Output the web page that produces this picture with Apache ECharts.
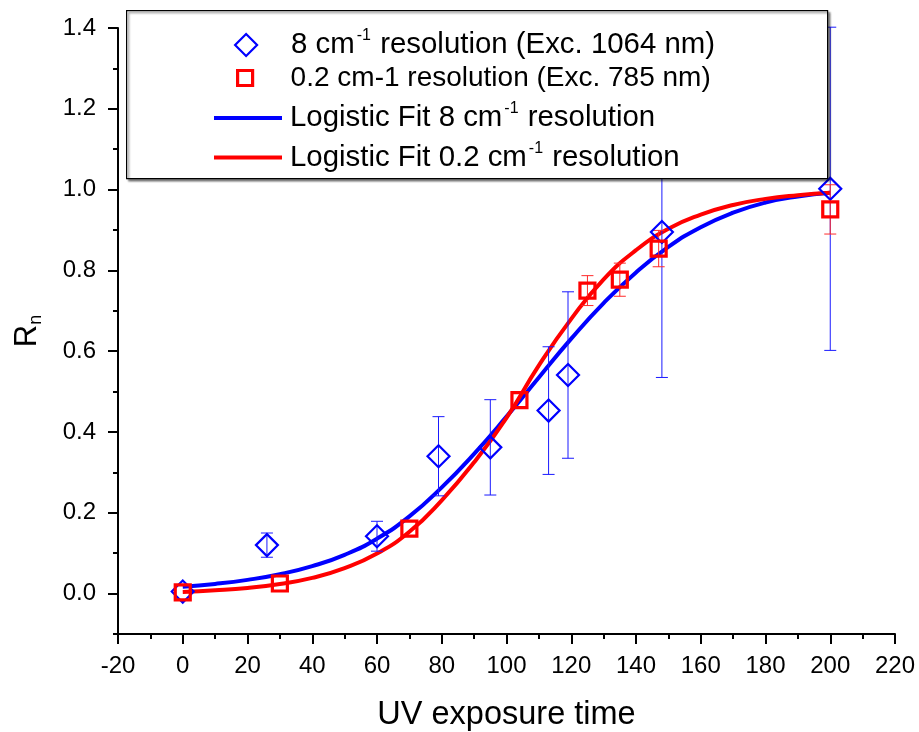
<!DOCTYPE html>
<html>
<head>
<meta charset="utf-8">
<script src="https://cdn.jsdelivr.net/npm/echarts@6/dist/echarts.min.js"></script>
<style>html,body{margin:0;padding:0;background:#fff}#c{width:919px;height:732px}</style>
</head>
<body>
<div id="c"></div>
<script>
// ---- data ----
const blueX   = [0, 26, 60, 79, 95, 113, 119, 148, 200];
const blueY   = [0.005, 0.12, 0.142, 0.34, 0.362, 0.453, 0.541, 0.895, 1.002];
const blueErr = [0, 0.03, 0.037, 0.098, 0.118, 0.158, 0.206, 0.36, 0.4];

const redX   = [0, 30, 70, 104, 125, 135, 147, 200];
const redY   = [0.003, 0.025, 0.161, 0.479, 0.75, 0.777, 0.854, 0.951];
const redErr = [0, 0, 0, 0, 0.037, 0.041, 0.045, 0.061];

const fitX    = [0, 10, 20, 30, 40, 50, 60, 70, 80, 90, 100, 110, 120, 130, 140, 150, 160, 170, 180, 190, 200];
const blueFit = [0.017, 0.024, 0.034, 0.048, 0.068, 0.096, 0.136, 0.191, 0.263, 0.346, 0.438, 0.535, 0.631, 0.719, 0.795, 0.858, 0.907, 0.943, 0.968, 0.983, 0.992];
const redFit  = [0.004, 0.008, 0.014, 0.024, 0.039, 0.063, 0.099, 0.153, 0.231, 0.325, 0.435, 0.565, 0.68, 0.778, 0.85, 0.903, 0.938, 0.962, 0.977, 0.986, 0.992];

const xTicks = [-20, 0, 20, 40, 60, 80, 100, 120, 140, 160, 180, 200, 220];
const yMajorTicks = [0, 0.2, 0.4, 0.6, 0.8, 1.0, 1.2, 1.4];
const yMinorTicks = [-0.1, 0, 0.1, 0.2, 0.3, 0.4, 0.5, 0.6, 0.7, 0.8, 0.9, 1.0, 1.1, 1.2, 1.3, 1.4];

const names = {
  b: '8 cm-1 resolution (Exc. 1064 nm)',
  r: '0.2 cm-1 resolution (Exc. 785 nm)',
  bf: 'Logistic Fit 8 cm-1 resolution',
  rf: 'Logistic Fit 0.2 cm-1 resolution'
};
const legendRich = {
  [names.b]: '{c|8 cm}{s|-1}{c| resolution (Exc. 1064 nm)}',
  [names.r]: '{a|0.2 cm-1 resolution (Exc. 785 nm)}',
  [names.bf]: '{c|Logistic Fit 8 cm}{s|-1}{c| resolution}',
  [names.rf]: '{c|Logistic Fit 0.2 cm}{s|-1}{c| resolution}'
};

const FONT = '"Liberation Sans", Arial, sans-serif';
const zip = (xs, ys) => xs.map((x, i) => [x, ys[i]]);
const zip3 = (xs, ys, es) => xs.map((x, i) => [x, ys[i], es[i]]);

function errRender(color) {
  return function (params, api) {
    const x = api.value(0), y = api.value(1), e = api.value(2);
    if (!e) return null;
    const top = api.coord([x, y + e]);
    const bot = api.coord([x, y - e]);
    const hw = 6;
    const st = { stroke: color, lineWidth: 1 };
    return {
      type: 'group',
      children: [
        { type: 'line', shape: { x1: top[0], y1: top[1], x2: bot[0], y2: bot[1] }, style: st },
        { type: 'line', shape: { x1: top[0] - hw, y1: top[1], x2: top[0] + hw, y2: top[1] }, style: st },
        { type: 'line', shape: { x1: bot[0] - hw, y1: bot[1], x2: bot[0] + hw, y2: bot[1] }, style: st }
      ]
    };
  };
}

const richStyle = {
  a: { fontSize: 28, fontFamily: FONT, color: '#000', lineHeight: 34 },
  c: { fontSize: 29.4, fontFamily: FONT, color: '#000', lineHeight: 34 },
  s: { fontSize: 16, fontFamily: FONT, color: '#000', lineHeight: 20, verticalAlign: 'top', padding: [0, 1, 0, 2] }
};
const legendFmt = n => legendRich[n] || n;

const chart = echarts.init(document.getElementById('c'), null, { renderer: 'canvas' });
chart.setOption({
  animation: false,
  backgroundColor: '#fff',
  grid: { left: 118, right: 24, top: 28, bottom: 98, containLabel: false, outerBoundsMode: 'none' },
  xAxis: {
    type: 'value', min: xTicks[0], max: xTicks[xTicks.length - 1], interval: 20,
    name: 'UV exposure time', nameLocation: 'middle', nameGap: 65,
    nameTextStyle: { fontSize: 32.5, fontFamily: FONT, color: '#000' },
    axisLine: { show: true, onZero: false, lineStyle: { color: '#000', width: 2 } },
    axisTick: { show: true, inside: false, length: 10, lineStyle: { color: '#000', width: 2 } },
    minorTick: { show: true, splitNumber: 2, length: 5, lineStyle: { color: '#000', width: 2 } },
    axisLabel: { fontSize: 24, fontFamily: FONT, color: '#000', margin: 20 },
    splitLine: { show: false }
  },
  yAxis: [{
    type: 'value', min: -0.1, max: 1.4,
    name: '{a|R}{b|n}', nameLocation: 'middle', nameGap: 73, nameRotate: 90,
    nameTextStyle: {
      rich: {
        a: { fontSize: 31, fontFamily: FONT, color: '#000', lineHeight: 36 },
        b: { fontSize: 18, fontFamily: FONT, color: '#000', lineHeight: 12, verticalAlign: 'bottom' }
      }
    },
    axisLine: { show: true, onZero: false, lineStyle: { color: '#000', width: 2 } },
    axisTick: { show: true, inside: false, length: 10, customValues: yMajorTicks, lineStyle: { color: '#000', width: 2 } },
    axisLabel: { fontSize: 24, fontFamily: FONT, color: '#000', margin: 22, customValues: yMajorTicks,
      formatter: v => v.toFixed(1) },
    splitLine: { show: false }
  }, {
    type: 'value', min: -0.1, max: 1.4, position: 'left',
    axisLine: { show: false, onZero: false },
    axisTick: { show: true, inside: false, length: 5, customValues: yMinorTicks, lineStyle: { color: '#000', width: 2 } },
    axisLabel: { show: false },
    splitLine: { show: false }
  }],
  legend: [{
    data: [names.b], orient: 'vertical', left: 229, top: 23, itemWidth: 22, itemHeight: 22,
    z: 10, formatter: legendFmt, textStyle: { rich: richStyle, padding: [0, 0, 0, 29] },
    itemStyle: { borderWidth: 2.2, opacity: 1 }
  }, {
    data: [names.r], orient: 'vertical', left: 231, top: 59, itemWidth: 15, itemHeight: 15,
    z: 10, formatter: legendFmt, textStyle: { rich: richStyle, padding: [0, 0, 0, 33] },
    itemStyle: { borderWidth: 3.2, opacity: 1 }
  }, {
    data: [{ name: names.bf, icon: 'rect' }, { name: names.rf, icon: 'rect' }],
    orient: 'vertical', left: 209, top: 96, itemWidth: 68, itemHeight: 4, itemGap: 8,
    z: 10, formatter: legendFmt, textStyle: { rich: richStyle, padding: [0, 0, 0, 3] }
  }],
  graphic: [{
    type: 'rect', z: 5, left: 126, top: 10,
    shape: { width: 701, height: 168 },
    style: { fill: '#fff', stroke: '#000', lineWidth: 1.2, shadowColor: 'rgba(0,0,0,0.45)', shadowBlur: 2, shadowOffsetX: 2, shadowOffsetY: 2 }
  }],
  series: [
    { name: names.bf, type: 'line', data: zip(fitX, blueFit), smooth: 0.5,
      showSymbol: false, symbol: 'none', z: 2, lineStyle: { color: '#0000ff', width: 4 }, itemStyle: { color: '#0000ff' } },
    { name: names.rf, type: 'line', data: zip(fitX, redFit), smooth: 0.5,
      showSymbol: false, symbol: 'none', z: 2, lineStyle: { color: '#ff0000', width: 4 }, itemStyle: { color: '#ff0000' } },
    { type: 'custom', name: 'errB', data: zip3(blueX, blueY, blueErr), renderItem: errRender('#1a1aff'), z: 3, silent: true },
    { type: 'custom', name: 'errR', data: zip3(redX, redY, redErr), renderItem: errRender('#ff2a2a'), z: 3, silent: true },
    { name: names.b, type: 'scatter', data: zip(blueX, blueY), symbol: 'diamond', symbolSize: 22, z: 4,
      itemStyle: { color: 'rgba(255,255,255,0)', borderColor: '#0000ff', borderWidth: 2.2, opacity: 1 } },
    { name: names.r, type: 'scatter', data: zip(redX, redY), symbol: 'rect', symbolSize: 15, z: 4,
      itemStyle: { color: 'rgba(255,255,255,0)', borderColor: '#ff0000', borderWidth: 3.2, opacity: 1 } }
  ]
});
</script>
</body>
</html>
